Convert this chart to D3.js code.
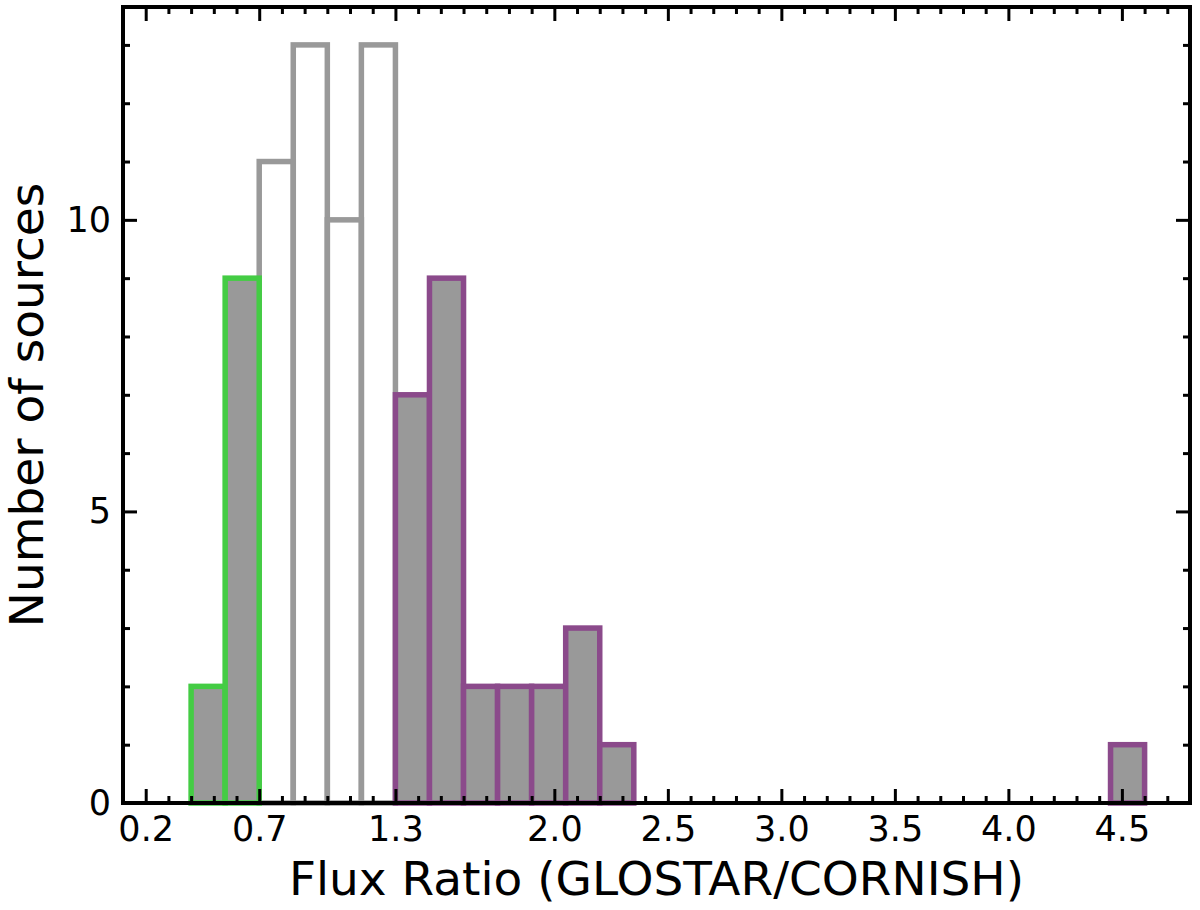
<!DOCTYPE html>
<html lang="en">
<head>
<meta charset="UTF-8">
<title>Flux ratio histogram</title>
<script src="https://cdnjs.cloudflare.com/ajax/libs/d3/7.8.5/d3.min.js"></script>
<style>
  body { margin: 0; background: #fff; }
  text { font-family: "DejaVu Sans", sans-serif; fill: #000; }
</style>
</head>
<body>
<div id="chart"></div>
<script>

// histogram bins (left edge of each bin) and counts, bin width 0.15
var binWidth = 0.15;
var lowStarts = [0.4, 0.55];
var lowCounts = [2, 9];
var midStarts = [0.7, 0.85, 1.0, 1.15];
var midCounts = [11, 13, 10, 13];
var highStarts = [1.3, 1.45, 1.6, 1.75, 1.9, 2.05, 2.2, 4.45];
var highCounts = [7, 9, 2, 2, 2, 3, 1, 1];

var xMajorTicks = [0.2, 0.7, 1.3, 2.0, 2.5, 3.0, 3.5, 4.0, 4.5];
var xTickLabels = ["0.2", "0.7", "1.3", "2.0", "2.5", "3.0", "3.5", "4.0", "4.5"];
var yMajorTicks = [0, 5, 10];

var xLabel = "Flux Ratio (GLOSTAR/CORNISH)";
var yLabel = "Number of sources";

var width = 1200, height = 910;
var plotL = 123, plotR = 1190, plotT = 7, plotB = 803;

var svg = d3.select("#chart").append("svg")
  .attr("width", width)
  .attr("height", height);

var x = d3.scaleLinear().domain([0.1, 4.8]).range([plotL, plotR]);
var y = d3.scaleLinear().domain([0, 13.65]).range([plotB, plotT]);

function toBins(starts, counts) {
  return starts.map(function(s, i) { return { x0: s, x1: s + binWidth, n: counts[i] }; });
}

// open grey bars first, coloured ones on top
function drawBars(bins, fill, stroke) {
  svg.append("g").selectAll("rect")
    .data(bins)
    .enter().append("rect")
    .attr("x", function(d) { return x(d.x0); })
    .attr("y", function(d) { return y(d.n); })
    .attr("width", function(d) { return x(d.x1) - x(d.x0); })
    .attr("height", function(d) { return y(0) - y(d.n); })
    .attr("fill", fill)
    .attr("stroke", stroke)
    .attr("stroke-width", 5.5);
}
drawBars(toBins(midStarts, midCounts), "none", "#999999");
drawBars(toBins(lowStarts, lowCounts), "#999999", "#44cc44");
drawBars(toBins(highStarts, highCounts), "#999999", "#8b4a8b");

// tick values
var xMinor = d3.range(1, 48).map(function(i) { return i / 10; })
  .filter(function(v) { return xMajorTicks.indexOf(Math.round(v * 10) / 10) < 0; });
var yMinor = d3.range(1, 14).filter(function(v) { return yMajorTicks.indexOf(v) < 0; });

function styleAxis(g) {
  g.select(".domain").remove();
  g.selectAll(".tick line").attr("stroke", "#000").attr("stroke-width", 3);
  g.selectAll(".tick text").style("font-size", "35px").attr("fill", "#000");
}

var majLen = 14, minLen = 7;

svg.append("g").attr("transform", "translate(0," + plotB + ")")
  .call(d3.axisBottom(x).tickValues(xMajorTicks).tickSizeInner(-majLen).tickSizeOuter(0)
    .tickPadding(13).tickFormat(function(d, i) { return xTickLabels[i]; }))
  .call(styleAxis);
svg.append("g").attr("transform", "translate(0," + plotB + ")")
  .call(d3.axisBottom(x).tickValues(xMinor).tickSizeInner(-minLen).tickSizeOuter(0).tickFormat(""))
  .call(styleAxis);
svg.append("g").attr("transform", "translate(0," + plotT + ")")
  .call(d3.axisTop(x).tickValues(xMajorTicks).tickSizeInner(-majLen).tickSizeOuter(0).tickFormat(""))
  .call(styleAxis);
svg.append("g").attr("transform", "translate(0," + plotT + ")")
  .call(d3.axisTop(x).tickValues(xMinor).tickSizeInner(-minLen).tickSizeOuter(0).tickFormat(""))
  .call(styleAxis);

svg.append("g").attr("transform", "translate(" + plotL + ",0)")
  .call(d3.axisLeft(y).tickValues(yMajorTicks).tickSizeInner(-majLen).tickSizeOuter(0)
    .tickPadding(12).tickFormat(d3.format("d")))
  .call(styleAxis);
svg.append("g").attr("transform", "translate(" + plotL + ",0)")
  .call(d3.axisLeft(y).tickValues(yMinor).tickSizeInner(-minLen).tickSizeOuter(0).tickFormat(""))
  .call(styleAxis);
svg.append("g").attr("transform", "translate(" + plotR + ",0)")
  .call(d3.axisRight(y).tickValues(yMajorTicks).tickSizeInner(-majLen).tickSizeOuter(0).tickFormat(""))
  .call(styleAxis);
svg.append("g").attr("transform", "translate(" + plotR + ",0)")
  .call(d3.axisRight(y).tickValues(yMinor).tickSizeInner(-minLen).tickSizeOuter(0).tickFormat(""))
  .call(styleAxis);

// frame
svg.append("rect")
  .attr("x", plotL).attr("y", plotT)
  .attr("width", plotR - plotL).attr("height", plotB - plotT)
  .attr("fill", "none").attr("stroke", "#000").attr("stroke-width", 4);

// axis labels
svg.append("text")
  .attr("x", (plotL + plotR) / 2).attr("y", 895)
  .attr("text-anchor", "middle")
  .style("font-size", "47px")
  .text(xLabel);

svg.append("text")
  .attr("transform", "translate(43," + (plotT + plotB) / 2 + ") rotate(-90)")
  .attr("text-anchor", "middle")
  .style("font-size", "47px")
  .text(yLabel);

</script>
</body>
</html>
